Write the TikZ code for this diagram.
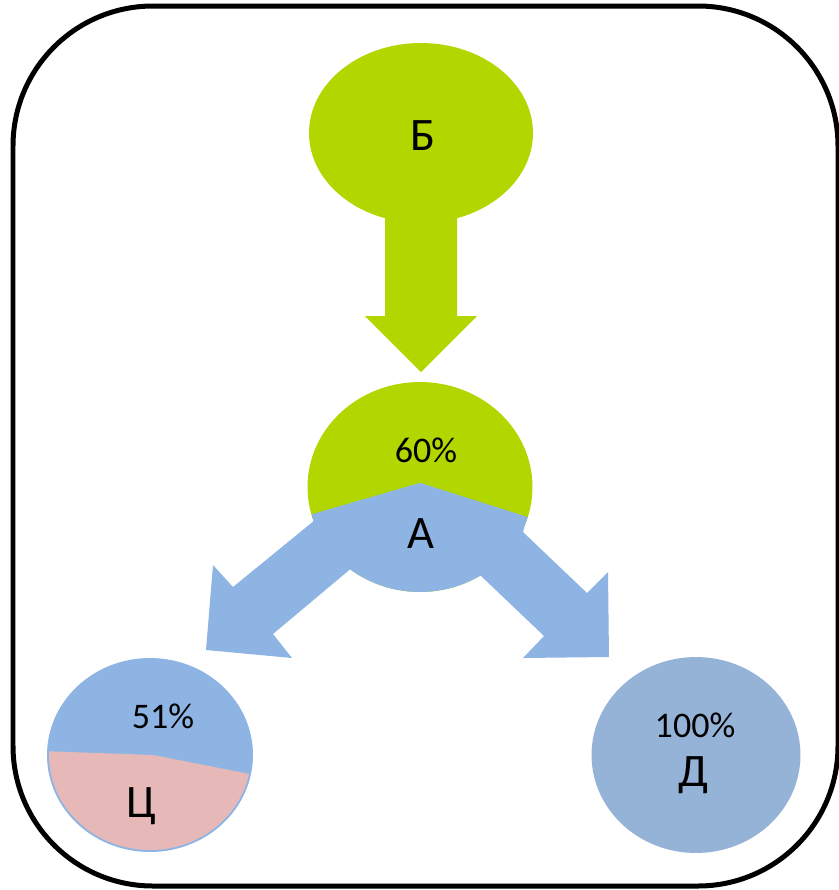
\documentclass[tikz,border=0pt]{standalone}
\usepackage{fontspec}
\setmainfont{Carlito}
\usetikzlibrary{shapes.geometric}

\definecolor{limegreen}{HTML}{B2D600}
\definecolor{arrowblue}{HTML}{8EB4E3}
\definecolor{dblue}{HTML}{95B3D7}
\definecolor{rosepink}{HTML}{E6B9B8}

\tikzset{
  blob/.style={ellipse, inner sep=0pt, draw=none},
  bigtxt/.style={anchor=base, inner sep=0pt, font=\fontsize{26.5}{30}\selectfont},
  pcttxt/.style={anchor=base, inner sep=0pt, font=\fontsize{20.5}{24}\selectfont}
}

\begin{document}
\begin{tikzpicture}[x=0.02cm,y=-0.02cm]

    % Fix the page size
    \useasboundingbox (0,0) rectangle (839,890);

    % Outer frame
    \draw[line width=0.1cm, rounded corners=2.8cm] (13,6) rectangle (838,886);

    % The circles
    \node[blob, fill=limegreen, minimum width=4.48cm, minimum height=3.6cm] (B) at (421,133) {};
    \node[blob, fill=limegreen, minimum width=4.5cm, minimum height=4.2cm] (A) at (420,487) {};
    \node[blob, fill=arrowblue, minimum width=4.12cm, minimum height=3.88cm] (C) at (150,755) {};
    \node[blob, fill=dblue, minimum width=4.18cm, minimum height=3.92cm] (D) at (696,755) {};

    % Green arrow from B down to A
    \coordinate (g1) at (385,210);
    \coordinate (g2) at (385,316);
    \coordinate (g3) at (365,316);
    \coordinate (gtip) at (421,372);
    \coordinate (g5) at (477,316);
    \coordinate (g6) at (457,316);
    \coordinate (g7) at (457,210);
    \fill[limegreen] (g1) -- (g2) -- (g3) -- (gtip) -- (g5) -- (g6) -- (g7) -- cycle;

    % Lower part of A is blue
    \begin{scope}
        \clip (A.center) ellipse [x radius=112.5, y radius=105];
        \fill[arrowblue] (420,483) -- (540,521) -- (540,600) -- (300,600) -- (300,518) -- cycle;
    \end{scope}

    % Blue arrows from A to C and D
    \coordinate (apex) at (420,483);
    \coordinate (knee) at (416,514);
    \fill[arrowblue] (apex) -- (313,514) -- (315,520) -- (233,587) -- (213,565)
        -- (206,650) -- (292,658) -- (273,634) -- (knee) -- cycle;
    \fill[arrowblue] (apex) -- (527,517) -- (523,532) -- (587,593) -- (608,572)
        -- (609,657) -- (523,658) -- (544,636) -- (knee) -- cycle;

    % Lower part of C is pink
    \begin{scope}
        \clip (C.center) ellipse [x radius=101, y radius=95];
        \fill[rosepink] (40,751) -- (153,755) -- (260,776) -- (260,860) -- (40,860) -- cycle;
    \end{scope}

    % Labels
    \node[bigtxt] (labB) at (423,150) {Б};
    \node[pcttxt] (pctA) at (426,462) {60\%};
    \node[bigtxt] (labA) at (421,548) {А};
    \node[pcttxt] (pctC) at (163,728) {51\%};
    \node[bigtxt] (labC) at (141,817) {Ц};
    \node[pcttxt] (pctD) at (695,737) {100\%};
    \node[bigtxt] (labD) at (693,786) {Д};

\end{tikzpicture}
\end{document}
